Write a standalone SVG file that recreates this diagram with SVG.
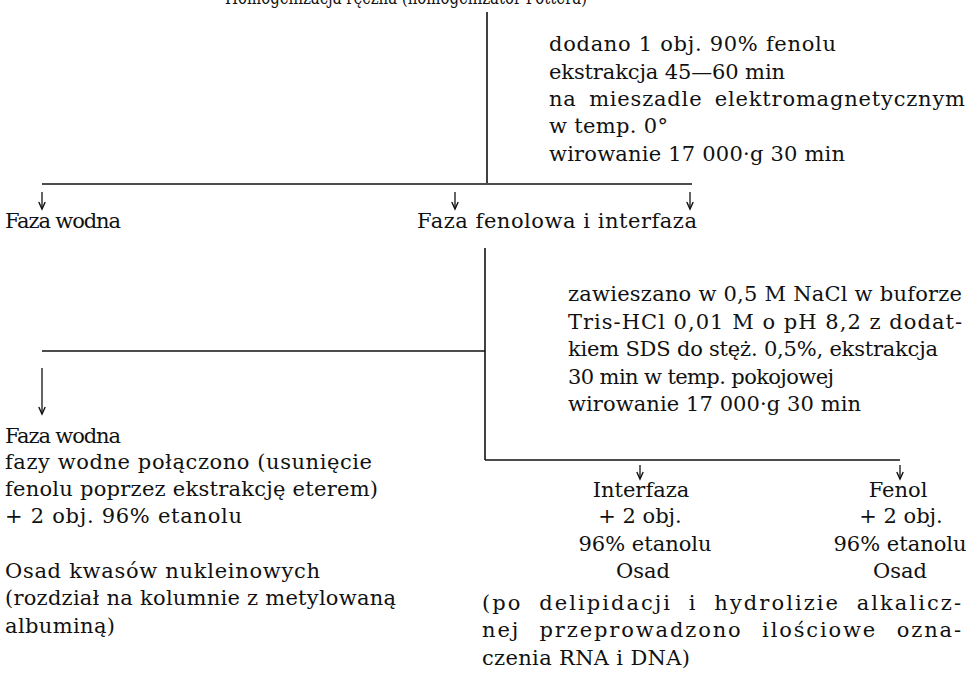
<svg xmlns="http://www.w3.org/2000/svg" width="968" height="700" viewBox="0 0 968 700">
<defs>
<path id="ah" d="M-3.2,-7 L0,0 L3.2,-7" fill="none" stroke="#111" stroke-width="1.4"/>
</defs>
<style>
text{font-family:"DejaVu Serif","Liberation Serif",serif;font-size:21px;fill:#111}
.c{text-anchor:middle}
.ln{stroke:#111;stroke-width:1.6;fill:none}
.ar{stroke:#111;stroke-width:1.3;fill:none}
</style>
<rect width="968" height="700" fill="#fff"/>
<g id="connectors">
<line class="ln" x1="487" y1="12" x2="487" y2="183"/>
<line class="ln" x1="42" y1="184" x2="692" y2="184"/>
<line class="ar" x1="42" y1="192" x2="42" y2="209"/>
<use href="#ah" x="42" y="209"/>
<line class="ar" x1="455" y1="192" x2="455" y2="209"/>
<use href="#ah" x="455" y="209"/>
<line class="ar" x1="690" y1="192" x2="690" y2="209"/>
<use href="#ah" x="690" y="209"/>
<line class="ln" x1="485" y1="248" x2="485" y2="460"/>
<line class="ln" x1="42" y1="351" x2="485" y2="351"/>
<line class="ar" x1="42" y1="368" x2="42" y2="414"/>
<use href="#ah" x="42" y="414"/>
<line class="ln" x1="485" y1="460" x2="900" y2="460"/>
<line class="ar" x1="640" y1="465" x2="640" y2="479"/>
<use href="#ah" x="640" y="479"/>
<line class="ar" x1="900" y1="465" x2="900" y2="479"/>
<use href="#ah" x="900" y="479"/>
</g>
<g id="start">
<text x="225" y="4" textLength="362" lengthAdjust="spacingAndGlyphs">Homogenizacja ręczna (homogenizator Pottera)</text>
</g>
<g id="step1">
<text x="549" y="51" textLength="287">dodano 1 obj. 90% fenolu</text>
<text x="549" y="79" textLength="236">ekstrakcja 45—60 min</text>
<text x="549" y="106" word-spacing="5" textLength="416">na mieszadle elektromagnetycznym</text>
<text x="549" y="133" textLength="119">w temp. 0°</text>
<text x="549" y="161" textLength="296">wirowanie 17 000·g 30 min</text>
</g>
<g id="faza-wodna-1">
<text x="5" y="228" textLength="116">Faza wodna</text>
</g>
<g id="faza-fenolowa">
<text x="417" y="228" textLength="280">Faza fenolowa i interfaza</text>
</g>
<g id="step2">
<text x="568" y="301" textLength="394">zawieszano w 0,5 M NaCl w buforze</text>
<text x="568" y="329" textLength="394">Tris-HCl 0,01 M o pH 8,2 z dodat-</text>
<text x="568" y="356" textLength="370">kiem  SDS do stęż. 0,5%, ekstrakcja</text>
<text x="568" y="384" textLength="266">30 min w temp. pokojowej</text>
<text x="568" y="411" textLength="293">wirowanie 17 000·g 30 min</text>
</g>
<g id="faza-wodna-2">
<text x="5" y="443" textLength="116">Faza wodna</text>
<text x="5" y="469" textLength="367">fazy wodne połączono (usunięcie</text>
<text x="5" y="496" textLength="373">fenolu poprzez ekstrakcję eterem)</text>
<text x="5" y="523" textLength="237">+ 2 obj. 96% etanolu</text>
</g>
<g id="osad-kwasow">
<text x="5" y="578" textLength="315">Osad kwasów nukleinowych</text>
<text x="5" y="605" textLength="391">(rozdział na kolumnie z metylowaną</text>
<text x="5" y="633" textLength="110">albuminą)</text>
</g>
<g id="interfaza">
<text class="c" x="641" y="497">Interfaza</text>
<text class="c" x="640" y="523">+ 2 obj.</text>
<text class="c" x="645" y="551">96% etanolu</text>
<text class="c" x="643" y="578">Osad</text>
</g>
<g id="fenol">
<text class="c" x="898" y="497">Fenol</text>
<text class="c" x="901" y="523">+ 2 obj.</text>
<text class="c" x="900" y="551">96% etanolu</text>
<text class="c" x="900" y="578">Osad</text>
</g>
<g id="wynik">
<text x="482" y="610" word-spacing="8" textLength="479">(po delipidacji i hydrolizie alkalicz-</text>
<text x="482" y="637" word-spacing="11" textLength="479">nej przeprowadzono ilościowe ozna-</text>
<text x="482" y="665" textLength="208">czenia RNA i DNA)</text>
</g>
</svg>
